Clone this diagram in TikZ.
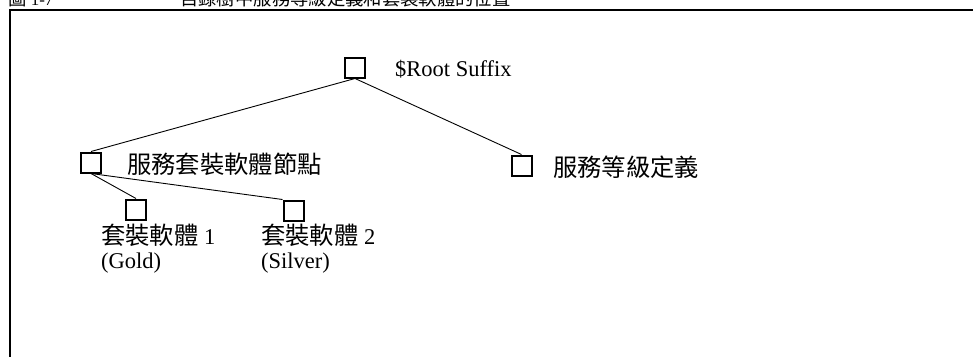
\documentclass[tikz,border=0pt]{standalone}
\usepackage{fontspec}
\setmainfont{Liberation Serif}
\newfontfamily\cjk[Scale=1.08]{Noto Sans CJK TC}
\tikzstyle{dirnode}=[draw, line width=2pt, inner sep=0pt, minimum size=20pt]
\tikzstyle{nodetext}=[inner sep=0pt]
\newcommand{\dirnode}{\node[dirnode]}

\begin{document}
\begin{tikzpicture}[x=1pt, y=-1pt
    ,font=\fontsize{22.5}{24}\selectfont
    ,every edge/.style={draw, line width=0.9pt}
]
\useasboundingbox (0,0) rectangle (973,356);
\clip (0,0) rectangle (973,356);
% frame and clipped caption
\draw[line width=2pt] (9.7,370) -- (9.7,9.7) -- (990,9.7);
\node[nodetext, anchor=base west, font=\fontsize{17}{18}\selectfont] (fignum) at (8,5.5) {{\cjk 圖} 1-7};
\node[nodetext, anchor=base west, font=\fontsize{17}{18}\selectfont] (figtitle) at (180,5.5) {\cjk 目錄樹中服務等級定義和套裝軟體的位置};
% tree
\dirnode (root) at (355,67.5) {};
\dirnode (svc) at (521.5,165.5) {};
\dirnode (pkgs) at (91,162.5) {};
\dirnode (pkg1) at (136,209.5) {};
\dirnode (pkg2) at (293.5,210.5) {};
\node[nodetext, anchor=west] (roottext) at (395,69) {\$Root Suffix};
\node[nodetext, anchor=west] (svctext) at (553,167) {\cjk 服務等級定義};
\node[nodetext, anchor=west] (pkgstext) at (127,164) {\cjk 服務套裝軟體節點};
\node[nodetext, anchor=north west, align=left] (pkg1text) at (101,224) {{\cjk 套裝軟體} 1\\(Gold)};
\node[nodetext, anchor=north west, align=left] (pkg2text) at (261,224) {{\cjk 套裝軟體} 2\\(Silver)};
\path
(root.south) edge (pkgs.north)
             edge (svc.north)
(pkgs.south) edge (pkg1.north)
             edge (pkg2.north west)
;
\end{tikzpicture}
\end{document}
